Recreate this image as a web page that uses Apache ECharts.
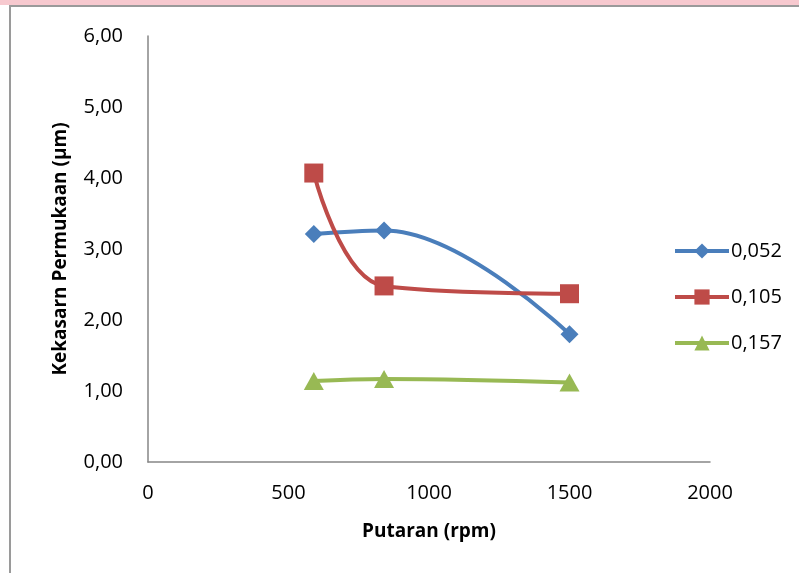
<!DOCTYPE html>
<html>
<head>
<meta charset="utf-8">
<script src="https://cdn.jsdelivr.net/npm/echarts@6/dist/echarts.min.js"></script>
<style>
  html, body { margin: 0; padding: 0; background: #fff; }
  #chart { width: 799px; height: 573px; }
</style>
</head>
<body>
<div id="chart"></div>
<script>
// data
const putaran = [590, 840, 1500];
const seriesNames = ['0,052', '0,105', '0,157'];
const kekasaran052 = [3.21, 3.26, 1.80];
const kekasaran105 = [4.07, 2.48, 2.37];
const kekasaran157 = [1.14, 1.17, 1.12];
const xTicks = [0, 500, 1000, 1500, 2000];

const chart = echarts.init(document.getElementById('chart'));
const font = 'Open Sans, Noto Sans, sans-serif';

function pairs(ys) {
  return putaran.map((x, i) => [x, ys[i]]);
}

const option = {
  animation: false,
  textStyle: { fontFamily: font },
  graphic: [
    { type: 'rect', shape: { x: 0, y: 0, width: 799, height: 5 }, style: { fill: '#f7c9cf' }, silent: true },
    { type: 'rect', shape: { x: 10, y: 6, width: 800, height: 580 }, style: { fill: 'none', stroke: '#9a9a9a', lineWidth: 2 }, silent: true }
  ],
  grid: { left: 148, top: 36, width: 562, height: 426, containLabel: false },
  legend: {
    orient: 'vertical',
    left: 668,
    top: 236,
    itemWidth: 54,
    itemHeight: 19,
    itemGap: 26,
    lineStyle: { width: 4 },
    textStyle: { fontSize: 20, color: '#000', fontFamily: font, padding: [0, 0, 0, -3] },
    data: seriesNames
  },
  xAxis: {
    type: 'value',
    min: 0,
    max: 2000,
    interval: 500,
    name: 'Putaran (rpm)',
    nameLocation: 'middle',
    nameGap: 60,
    nameTextStyle: { fontSize: 19, fontWeight: 'bold', color: '#000' },
    axisLine: { show: true, lineStyle: { color: '#868686', width: 1.5 } },
    axisTick: { show: false },
    splitLine: { show: false },
    axisLabel: { fontSize: 20, color: '#000', margin: 21, formatter: v => xTicks.includes(v) ? String(v) : '' }
  },
  yAxis: {
    type: 'value',
    min: 0,
    max: 6,
    interval: 1,
    name: 'Kekasarn Permukaan (µm)',
    nameLocation: 'middle',
    nameGap: 78,
    nameTextStyle: { fontSize: 19, fontWeight: 'bold', color: '#000' },
    axisLine: { show: true, lineStyle: { color: '#868686', width: 1.5 } },
    axisTick: { show: false },
    splitLine: { show: false },
    axisLabel: { fontSize: 20, color: '#000', margin: 25, formatter: v => v.toFixed(2).replace('.', ',') }
  },
  series: [
    {
      name: seriesNames[0], type: 'line', smooth: 0.4,
      data: pairs(kekasaran052),
      symbol: 'diamond', symbolSize: 18,
      lineStyle: { color: '#4a7ebb', width: 4 },
      itemStyle: { color: '#4a7ebb' }
    },
    {
      name: seriesNames[1], type: 'line', smooth: 0.4,
      data: pairs(kekasaran105),
      symbol: 'rect', symbolSize: 19,
      lineStyle: { color: '#be4b48', width: 4 },
      itemStyle: { color: '#be4b48' }
    },
    {
      name: seriesNames[2], type: 'line', smooth: 0.4,
      data: pairs(kekasaran157),
      symbol: 'triangle', symbolSize: [20, 18],
      lineStyle: { color: '#98b954', width: 4 },
      itemStyle: { color: '#98b954' }
    }
  ]
};

chart.setOption(option);
window.addEventListener('resize', () => chart.resize());
</script>
</body>
</html>
